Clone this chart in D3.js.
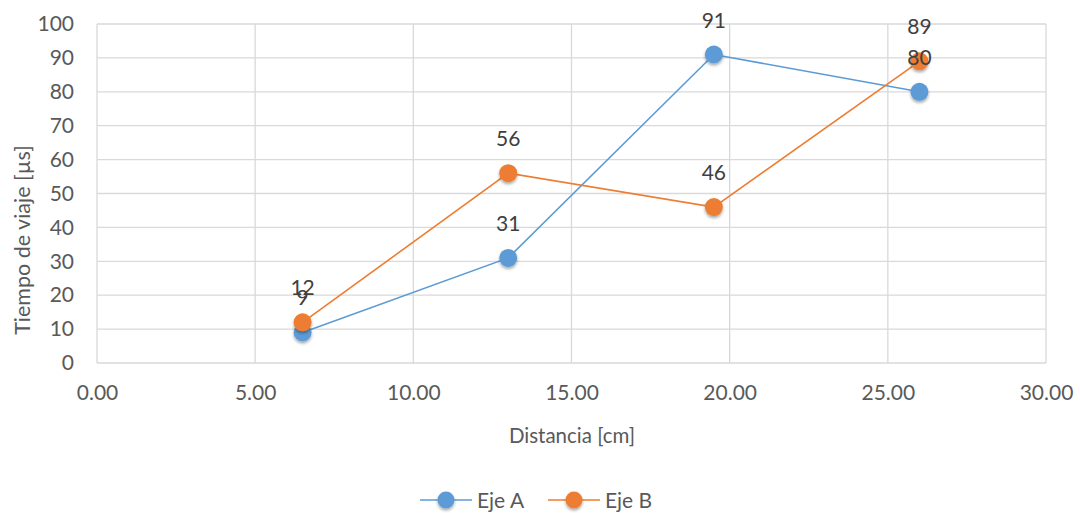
<!DOCTYPE html>
<html>
<head>
<meta charset="utf-8">
<script src="https://cdn.jsdelivr.net/npm/d3@7"></script>
<style>
  body { margin: 0; background: #fff; }
  text { font-family: "Lato", "Open Sans", "Liberation Sans", sans-serif; }
</style>
</head>
<body>
<svg id="chart" width="1080" height="513"></svg>
<script>
// data
var distancia = [6.5, 13, 19.5, 26]
var ejeA = [9, 31, 91, 80]
var ejeB = [12, 56, 46, 89]
var xTicks = [0, 5, 10, 15, 20, 25, 30]
var yTicks = [0, 10, 20, 30, 40, 50, 60, 70, 80, 90, 100]

var series = [
  {name: 'Eje A', values: ejeA, colour: '#5B9BD5'},
  {name: 'Eje B', values: ejeB, colour: '#ED7D31'}
]

var svg = d3.select('#chart')
// plot box (note: "top" is taken by window.top)
var pLeft = 97, pRight = 1046, pTop = 24, pBottom = 363

var x = d3.scaleLinear().domain([0, 30]).range([pLeft, pRight])
var y = d3.scaleLinear().domain([0, 100]).range([pBottom, pTop])

// shadow for the markers
var defs = svg.append('defs')
var f = defs.append('filter').attr('id', 'shadow').attr('x', '-50%').attr('y', '-50%').attr('width', '200%').attr('height', '200%')
f.append('feDropShadow').attr('dx', 0).attr('dy', 2).attr('stdDeviation', 1.8)
  .attr('flood-color', '#000').attr('flood-opacity', 0.35)

// grid
var grid = svg.append('g')
grid.selectAll('line.h').data(yTicks).enter().append('line')
  .attr('x1', pLeft).attr('x2', pRight)
  .attr('y1', d => y(d)).attr('y2', d => y(d))
  .attr('stroke', '#d9d9d9').attr('stroke-width', 1.3)
grid.selectAll('line.v').data(xTicks).enter().append('line')
  .attr('y1', pTop).attr('y2', pBottom)
  .attr('x1', d => x(d)).attr('x2', d => x(d))
  .attr('stroke', '#d9d9d9').attr('stroke-width', 1.3)

// axes
var xAxis = svg.append('g').attr('transform', 'translate(0,' + pBottom + ')')
  .call(d3.axisBottom(x).tickValues(xTicks).tickFormat(d3.format('.2f')).tickSize(0).tickPadding(22))
var yAxis = svg.append('g').attr('transform', 'translate(' + pLeft + ',0)')
  .call(d3.axisLeft(y).tickValues(yTicks).tickSize(0).tickPadding(23))
;[xAxis, yAxis].forEach(a => {
  a.select('.domain').remove()
  a.selectAll('text').attr('fill', '#595959').style('font-size', '21px')
})

svg.append('text').attr('x', 572).attr('y', 443)
  .attr('text-anchor', 'middle').attr('fill', '#595959').style('font-size', '20.5px')
  .text('Distancia [cm]')
svg.append('text').attr('transform', 'translate(30,240) rotate(-90)')
  .attr('text-anchor', 'middle').attr('fill', '#595959').style('font-size', '21.5px')
  .text('Tiempo de viaje [µs]')

// lines and markers
var line = d3.line().x((d, i) => x(distancia[i])).y(d => y(d))
series.forEach(s => {
  svg.append('path').datum(s.values).attr('d', line)
    .attr('fill', 'none').attr('stroke', s.colour).attr('stroke-width', 1.6)
})
series.forEach(s => {
  svg.append('g').selectAll('circle').data(s.values).enter().append('circle')
    .attr('cx', (d, i) => x(distancia[i])).attr('cy', d => y(d)).attr('r', 9)
    .attr('fill', s.colour).attr('filter', 'url(#shadow)')
})
// data labels
series.forEach(s => {
  svg.append('g').selectAll('text').data(s.values).enter().append('text')
    .attr('x', (d, i) => x(distancia[i])).attr('y', d => y(d) - 27)
    .attr('text-anchor', 'middle').attr('fill', '#404040').style('font-size', '21px')
    .text(d => d)
})

// legend
var legend = svg.append('g').attr('transform', 'translate(0,500)')
var lx = [420, 548]
series.forEach((s, i) => {
  var g = legend.append('g').attr('transform', 'translate(' + lx[i] + ',0)')
  g.append('line').attr('x1', 0).attr('x2', 52).attr('stroke', s.colour).attr('stroke-width', 1.6)
  g.append('circle').attr('cx', 26).attr('r', 8.5).attr('fill', s.colour).attr('filter', 'url(#shadow)')
  g.append('text').attr('x', 57).attr('y', 7.5).attr('fill', '#595959').style('font-size', '21px').text(s.name)
})
</script>
</body>
</html>
